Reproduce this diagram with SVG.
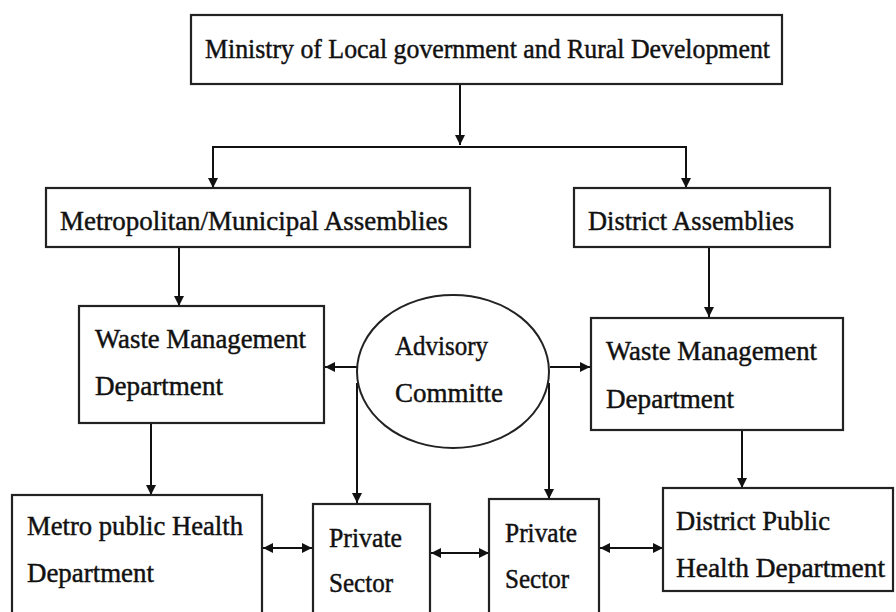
<svg xmlns="http://www.w3.org/2000/svg" width="896" height="612" viewBox="0 0 896 612">
<style>
.box{fill:#fff;stroke:#222;stroke-width:2.2}
.ln{fill:none;stroke:#111;stroke-width:2}
.t{font-family:"Liberation Serif","Times New Roman",serif;font-size:27px;fill:#111;stroke:#111;stroke-width:0.45}
</style>
<defs>
<marker id="ah" viewBox="0 0 10 10" refX="10" refY="5" markerWidth="10" markerHeight="10" markerUnits="userSpaceOnUse" orient="auto-start-reverse">
<path d="M0,0 L10,5 L0,10 Z" fill="#111"/>
</marker>
</defs>
<rect width="896" height="612" fill="#fff"/>
<g id="connectors">
<path class="ln" d="M460,84 V145" marker-end="url(#ah)"/>
<path class="ln" d="M213,147 H686"/>
<path class="ln" d="M213,146 V188" marker-end="url(#ah)"/>
<path class="ln" d="M686,146 V188" marker-end="url(#ah)"/>
<path class="ln" d="M179,247 V306" marker-end="url(#ah)"/>
<path class="ln" d="M709,247 V317" marker-end="url(#ah)"/>
<path class="ln" d="M357,367 H325" marker-end="url(#ah)"/>
<path class="ln" d="M550,367 H590" marker-end="url(#ah)"/>
<path class="ln" d="M357,383 V503" marker-end="url(#ah)"/>
<path class="ln" d="M549,383 V499" marker-end="url(#ah)"/>
<path class="ln" d="M151,423 V495" marker-end="url(#ah)"/>
<path class="ln" d="M742,430 V488" marker-end="url(#ah)"/>
<path class="ln" d="M263,548 H312" marker-start="url(#ah)" marker-end="url(#ah)"/>
<path class="ln" d="M431,553 H489" marker-start="url(#ah)" marker-end="url(#ah)"/>
<path class="ln" d="M600,548 H663" marker-start="url(#ah)" marker-end="url(#ah)"/>
</g>
<g id="ministry">
<rect class="box" x="191" y="15" width="591" height="69"/>
<text class="t" x="205" y="58" textLength="565" lengthAdjust="spacingAndGlyphs">Ministry of Local government and Rural Development</text>
</g>
<g id="metro-assemblies">
<rect class="box" x="46" y="188" width="424" height="59"/>
<text class="t" x="60" y="230" textLength="388" lengthAdjust="spacingAndGlyphs">Metropolitan/Municipal Assemblies</text>
</g>
<g id="district-assemblies">
<rect class="box" x="574" y="188" width="256" height="59"/>
<text class="t" x="588" y="230" textLength="206" lengthAdjust="spacingAndGlyphs">District Assemblies</text>
</g>
<g id="waste-left">
<rect class="box" x="79" y="306" width="245" height="117"/>
<text class="t" x="95" y="348" textLength="211" lengthAdjust="spacingAndGlyphs">Waste Management</text>
<text class="t" x="95" y="395" textLength="128" lengthAdjust="spacingAndGlyphs">Department</text>
</g>
<g id="advisory">
<ellipse cx="453" cy="371.5" rx="96" ry="76.5" fill="#fff" stroke="#222" stroke-width="2"/>
<text class="t" x="395" y="355" textLength="93" lengthAdjust="spacingAndGlyphs">Advisory</text>
<text class="t" x="395" y="402" textLength="108" lengthAdjust="spacingAndGlyphs">Committe</text>
</g>
<g id="waste-right">
<rect class="box" x="591" y="318" width="252" height="112"/>
<text class="t" x="606" y="360" textLength="211" lengthAdjust="spacingAndGlyphs">Waste Management</text>
<text class="t" x="606" y="408" textLength="128" lengthAdjust="spacingAndGlyphs">Department</text>
</g>
<g id="metro-health">
<rect class="box" x="12" y="495" width="250" height="130"/>
<text class="t" x="27" y="535" textLength="216" lengthAdjust="spacingAndGlyphs">Metro public Health</text>
<text class="t" x="27" y="582" textLength="127" lengthAdjust="spacingAndGlyphs">Department</text>
</g>
<g id="private-1">
<rect class="box" x="313" y="504" width="117" height="120"/>
<text class="t" x="329" y="547" textLength="73" lengthAdjust="spacingAndGlyphs">Private</text>
<text class="t" x="329" y="592" textLength="64" lengthAdjust="spacingAndGlyphs">Sector</text>
</g>
<g id="private-2">
<rect class="box" x="489" y="499" width="110" height="125"/>
<text class="t" x="505" y="542" textLength="72" lengthAdjust="spacingAndGlyphs">Private</text>
<text class="t" x="505" y="588" textLength="64" lengthAdjust="spacingAndGlyphs">Sector</text>
</g>
<g id="district-health">
<rect class="box" x="663" y="488" width="230" height="103"/>
<text class="t" x="676" y="530" textLength="154" lengthAdjust="spacingAndGlyphs">District Public</text>
<text class="t" x="676" y="577" textLength="209" lengthAdjust="spacingAndGlyphs">Health Department</text>
</g>
</svg>
